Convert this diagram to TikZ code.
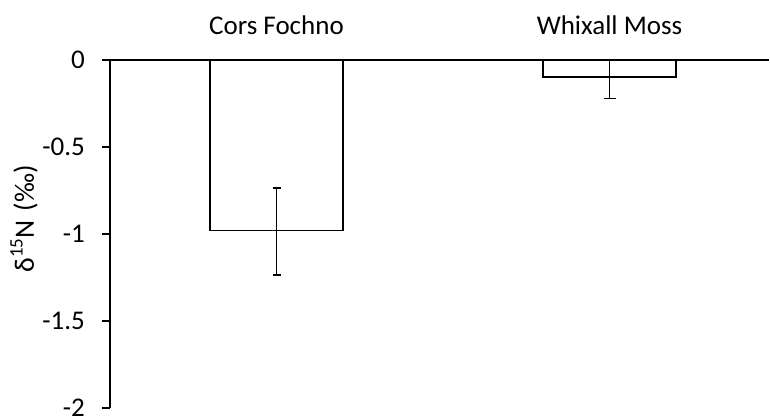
\documentclass[tikz,border=0pt]{standalone}
\usepackage{fontspec}
\setmainfont{Carlito}
\usetikzlibrary{positioning}
\tikzset{
  axis/.style = {line width=1.5pt, black},
  bar/.style = {line width=1.5pt, draw=black, fill=white},
  errbar/.style = {line width=1.3pt, black},
  ticklabel/.style = {anchor=east, inner sep=0pt, font=\fontsize{27}{32}\selectfont},
  catlabel/.style = {inner sep=0pt, font=\fontsize{27}{32}\selectfont}
}

\begin{document}
\begin{tikzpicture}[x=1pt,y=1pt]
  \useasboundingbox (0,0) rectangle (770,416);
  % plot area: origin at the zero line, 174pt per unit
  \begin{scope}[shift={(110,356)},y=174pt]
    % bars
    \draw [bar] (100,0) rectangle (233,-0.98);
    \draw [bar] (433,0) rectangle (566,-0.098);
    % error bars
    \draw [errbar] (166.5,-0.735) -- (166.5,-1.236);
    \draw [errbar] (162.5,-0.735) -- (170.5,-0.735);
    \draw [errbar] (162.5,-1.236) -- (170.5,-1.236);
    \draw [errbar] (499.5,0) -- (499.5,-0.22);
    \draw [errbar] (493.5,-0.22) -- (505.5,-0.22);
    % axes
    \draw [axis] (0,0) -- (0,-2);
    \draw [axis] (-8,0) -- (659,0);
    \foreach \v/\t in {0/0,-0.5/-0.5,-1/-1,-1.5/-1.5,-2/-2}{
      \draw [axis] (-8,\v) -- (0,\v);
      \node [ticklabel] (tick\t) at (-25,\v) {\t};
    }
    % categories
    \node [catlabel] (cors) at (166.5,0.2) {Cors Fochno};
    \node [catlabel] (whix) at (499.5,0.2) {Whixall Moss};
  \end{scope}
  \node [rotate=90, inner sep=0pt, font=\fontsize{28}{33}\selectfont] (ylab) at (24,197)
    {δ\raisebox{0.4em}{\fontsize{19}{22}\selectfont 15}N\hspace{0.1em} (‰)};
\end{tikzpicture}
\end{document}
